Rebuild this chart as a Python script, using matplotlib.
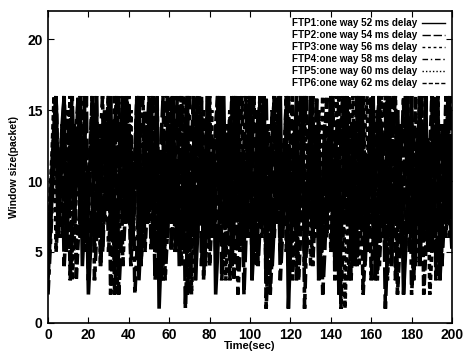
import numpy as np
import matplotlib
matplotlib.use("Agg")
import matplotlib.pyplot as plt

plt.rcParams["font.family"] = ["Liberation Sans", "DejaVu Sans"]
plt.rcParams["font.weight"] = "bold"

# window size (packets) of each FTP flow, one sample per second, t = 0..200 s
sample_step = 1.0

ftp1 = [3,6,9,12,16,8,11,14,16,5,8,11,15,7,10,13,16,4,7,10,
        2,5,8,12,16,6,9,12,15,8,11,16,9,4,6,9,13,16,7,10,
        14,5,8,11,16,3,6,9,13,7,10,15,8,12,16,1,5,9,12,6,
        9,13,16,7,11,4,7,10,14,16,5,9,12,3,6,10,14,8,11,16,
        6,9,13,2,5,8,12,16,7,10,14,4,7,11,16,8,12,5,9,13,
        16,3,6,10,15,7,11,16,5,8,12,4,7,11,14,16,6,9,13,1,
        5,8,12,16,7,10,15,4,8,11,16,6,9,13,3,6,10,14,7,11,
        16,5,8,12,2,6,9,13,16,7,10,14,4,7,11,16,8,12,5,9,
        13,16,3,7,10,14,6,9,13,16,4,8,11,15,7,10,2,5,9,12,
        16,6,10,13,4,7,11,16,8,12,5,8,12,16,3,6,10,14,7,11,
        9]
ftp2 = [5,8,11,14,16,7,10,13,4,7,10,14,16,8,11,15,6,9,12,16,
        3,6,9,13,16,8,12,5,8,11,15,7,10,14,16,2,5,8,12,16,
        9,13,6,9,12,16,4,7,10,13,16,8,11,3,6,9,13,16,7,10,
        14,5,8,12,16,6,9,13,1,5,9,12,16,7,11,14,4,8,11,16,
        8,12,6,9,13,16,3,6,10,13,7,10,14,16,5,8,12,2,6,9,
        13,16,7,11,4,7,10,14,16,8,11,15,6,9,13,3,6,10,14,16,
        7,10,13,5,8,12,16,4,7,11,15,8,12,16,6,9,2,5,9,12,
        16,7,10,14,5,8,11,16,9,13,3,6,10,14,16,7,11,4,8,12,
        15,6,9,13,16,8,11,1,5,8,12,16,7,10,14,5,9,12,16,8,
        11,3,7,10,14,16,6,9,13,5,8,12,16,7,11,4,7,10,14,16,
        8]
ftp3 = [4,7,10,13,16,9,12,6,9,12,15,8,11,14,3,6,9,12,16,7,
        10,13,16,5,8,11,14,6,9,13,16,2,5,9,12,16,8,11,15,7,
        10,4,7,10,14,16,8,11,5,8,12,16,6,9,13,3,7,10,14,16,
        7,11,15,5,8,12,16,9,12,2,5,8,12,16,6,10,13,4,7,11,
        16,8,12,5,9,12,16,7,10,14,3,6,10,13,16,8,11,6,9,13,
        16,4,8,11,15,7,10,14,1,5,9,13,16,7,11,5,8,12,16,9,
        12,3,6,10,14,16,7,11,5,8,12,16,6,9,13,4,7,10,15,8,
        11,16,3,6,9,13,16,7,10,14,5,8,12,16,6,10,2,5,9,12,
        16,8,11,15,4,7,11,14,16,6,9,13,3,6,10,14,8,11,16,5,
        8,12,16,7,10,13,2,5,9,12,16,6,10,14,4,7,11,16,8,12,
        6]
ftp4 = [2,5,8,12,16,6,9,13,16,8,11,4,7,10,14,16,7,10,13,5,
        8,11,15,3,6,10,13,16,7,11,5,8,12,16,6,9,14,4,7,11,
        16,8,12,2,5,9,13,16,7,10,14,5,8,12,16,6,10,13,3,6,
        9,13,16,8,11,15,4,7,11,14,16,7,10,5,8,12,16,3,7,10,
        14,6,9,13,16,8,11,4,7,11,15,7,10,14,2,5,8,12,16,6,
        9,13,5,8,12,16,7,11,3,6,10,13,16,8,12,5,9,12,16,4,
        7,11,14,6,9,13,16,1,6,9,12,16,7,10,14,5,8,12,6,9,
        13,16,4,7,10,14,16,8,11,3,6,9,13,16,7,11,15,5,8,12,
        16,6,9,3,6,10,14,16,7,11,4,8,11,15,8,12,16,5,9,13,
        2,5,8,12,16,7,10,14,6,9,13,16,4,7,11,14,8,11,16,6,
        10]
ftp5 = [6,9,12,16,5,8,11,14,7,10,13,16,3,6,9,13,16,8,11,5,
        8,12,16,7,10,14,4,7,10,13,16,6,9,12,2,5,9,12,16,8,
        11,15,6,9,13,16,4,7,11,14,7,10,13,16,5,8,12,3,6,10,
        14,16,8,11,5,9,12,16,7,10,14,2,6,9,13,16,7,11,4,8,
        11,15,6,9,13,16,8,12,3,6,10,14,16,7,10,5,8,12,16,9,
        13,4,7,11,14,16,6,10,13,2,5,9,12,16,8,11,6,9,13,16,
        5,8,12,3,7,10,14,16,7,11,4,7,11,15,8,12,16,6,9,13,
        5,8,11,16,7,10,14,1,6,9,13,16,8,11,4,7,10,14,16,6,
        9,13,5,8,12,16,7,11,3,6,10,14,16,8,12,5,8,12,16,7,
        10,14,4,7,11,16,6,9,13,2,5,9,13,16,7,10,14,6,9,12,
        16]
ftp6 = [4,7,11,14,16,6,9,12,16,8,11,3,6,9,13,16,7,10,14,5,
        8,12,16,6,10,13,4,7,10,14,16,8,11,2,5,9,12,16,7,10,
        13,6,9,12,16,4,8,11,15,7,10,14,16,5,8,12,3,6,10,13,
        16,7,11,5,8,12,16,6,9,13,2,5,9,12,16,8,11,15,6,10,
        4,7,11,14,16,7,10,13,5,8,12,16,3,6,9,13,16,8,12,6,
        9,13,16,4,7,11,15,7,10,14,2,5,8,12,16,6,9,13,5,8,
        12,16,7,11,3,6,10,14,16,8,11,4,7,11,15,6,9,13,16,8,
        11,5,8,12,16,1,6,9,13,16,7,10,14,4,8,11,16,6,9,13,
        3,6,10,14,16,7,11,5,8,12,16,8,11,2,5,9,12,16,7,10,
        14,4,7,11,16,6,9,13,5,8,12,16,3,6,10,14,7,11,16,8,
        5]

flows = [ftp1, ftp2, ftp3, ftp4, ftp5, ftp6]
labels = ["FTP1:one way 52 ms delay", "FTP2:one way 54 ms delay",
          "FTP3:one way 56 ms delay", "FTP4:one way 58 ms delay",
          "FTP5:one way 60 ms delay", "FTP6:one way 62 ms delay"]
styles = ["-", (0, (6, 1.5)), (0, (3, 1)), (0, (4, 1.5, 1.5, 1.5)), (0, (1.5, 1)), (0, (3, 1))]

fig = plt.figure(figsize=(4.66, 3.54), dpi=100)
ax = fig.add_axes([0.103, 0.088, 0.867, 0.881])

for vals, lab, ls in zip(flows, labels, styles):
    t = np.arange(len(vals)) * sample_step
    ax.plot(t, vals, color="black", lw=2.6, ls=ls, label=lab,
            solid_joinstyle="bevel", dash_joinstyle="bevel")

ax.set_xlim(0, 200)
ax.set_ylim(0, 22)
ax.set_xticks(range(0, 201, 20))
ax.set_yticks([0, 5, 10, 15, 20])
ax.tick_params(direction="in", top=True, right=True, length=4, width=0.8,
               labelsize=10, pad=4)
for lab in ax.get_xticklabels() + ax.get_yticklabels():
    lab.set_fontweight("bold")
for s in ax.spines.values():
    s.set_linewidth(1.2)

ax.set_xlabel("Time(sec)", fontsize=8, fontweight="bold", labelpad=-1)
ax.set_ylabel("Window size(packet)", fontsize=7.5, fontweight="bold", labelpad=6)

leg = ax.legend(loc="upper right", frameon=False, markerfirst=False,
                handlelength=2.3, handletextpad=0.5, labelspacing=0.2,
                borderaxespad=0.35,
                prop={"family": "Liberation Sans", "weight": "bold", "size": 7.1})
leg_styles = ["-", (0, (6, 2)), (0, (2, 2)), (0, (4, 2, 1, 2)), (0, (1, 1.5)), (0, (3, 1.5))]
for h, ls in zip(leg.get_lines(), leg_styles):
    h.set_linewidth(1.0)
    h.set_linestyle(ls)

fig.savefig("out.png", dpi=100)
